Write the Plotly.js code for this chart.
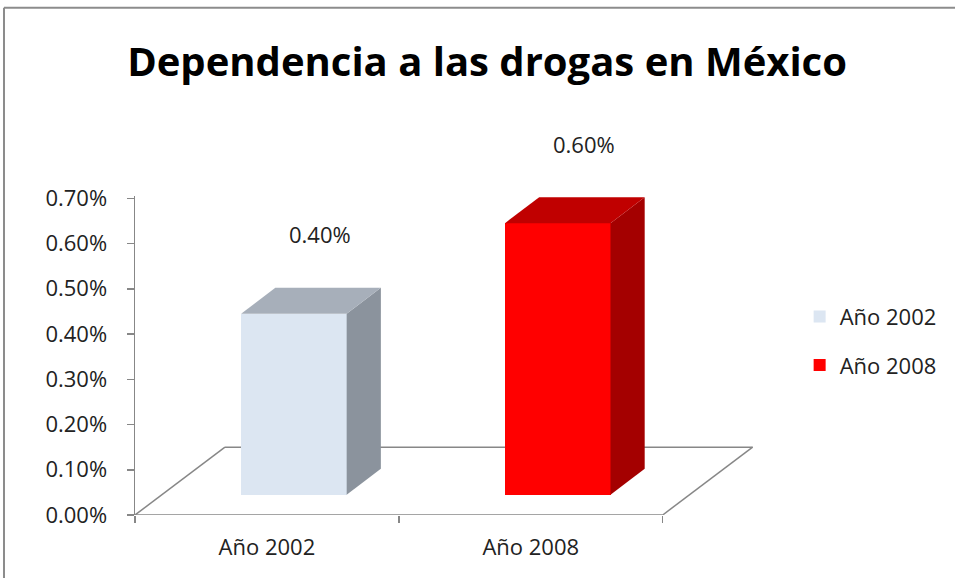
<!DOCTYPE html>
<html>
<head>
<meta charset="utf-8">
<script src="https://cdn.plot.ly/plotly-3.0.1.min.js"></script>
<style>html,body{margin:0;padding:0;background:#fff;}#chart{width:955px;height:578px;}</style>
</head>
<body>
<div id="chart"></div>
<script>
// ---- data ----
const categories = ['Año 2002', 'Año 2008'];
const seriesNames = ['Año 2002', 'Año 2008'];
const values = [0.004, 0.006];
const frontColors = ['#DCE6F2', '#FF0000'];
const topColors = ['#A7AFBA', '#C00000'];
const sideColors = ['#8B939D', '#A40000'];

// ---- pseudo-3D geometry (in axis units) ----
const floorDx = 0.341;     // depth offset along x (category units)
const floorDy = 0.0015;    // depth offset along y (value units)
const f0 = 0.30, f1 = 0.68; // bar front / back depth fractions
const barW = 0.40;

const traces = [];
const fontFam = '"Open Sans", "Noto Sans", sans-serif';

values.forEach((v, i) => {
  const xc = i + f0 * floorDx;
  const xl0 = xc - barW / 2, xr0 = xc + barW / 2;
  const ddx = (f1 - f0) * floorDx;
  const yb0 = f0 * floorDy, yb1 = f1 * floorDy;
  // front face
  traces.push({
    type: 'bar', x: [xc], y: [v], base: [yb0], width: [barW],
    name: seriesNames[i], legendgroup: 'g' + i,
    marker: {color: frontColors[i], line: {width: 0}},
    hoverinfo: 'skip'
  });
  // side face
  traces.push({
    type: 'scatter', mode: 'lines', fill: 'toself', showlegend: false, hoverinfo: 'skip',
    x: [xr0, xr0, xr0 + ddx, xr0 + ddx, xr0],
    y: [yb0, v + yb0, v + yb1, yb1, yb0],
    line: {width: 0, color: sideColors[i]}, fillcolor: sideColors[i]
  });
  // top face
  traces.push({
    type: 'scatter', mode: 'lines', fill: 'toself', showlegend: false, hoverinfo: 'skip',
    x: [xl0, xr0, xr0 + ddx, xl0 + ddx, xl0],
    y: [v + yb0, v + yb0, v + yb1, v + yb1, v + yb0],
    line: {width: 0, color: topColors[i]}, fillcolor: topColors[i]
  });
});

const gray = '#878787';
const xMin = -0.5, xMax = categories.length - 0.5;
const shapes = [
  // floor
  {type: 'line', xref: 'x', yref: 'y', layer: 'below', x0: xMin, y0: 0, x1: xMax, y1: 0, line: {color: gray, width: 1.5}},
  {type: 'line', xref: 'x', yref: 'y', layer: 'below', x0: xMin, y0: 0, x1: xMin + floorDx, y1: floorDy, line: {color: gray, width: 1.5}},
  {type: 'line', xref: 'x', yref: 'y', layer: 'below', x0: xMin + floorDx, y0: floorDy, x1: xMax + floorDx, y1: floorDy, line: {color: gray, width: 1.5}},
  {type: 'line', xref: 'x', yref: 'y', layer: 'below', x0: xMax, y0: 0, x1: xMax + floorDx, y1: floorDy, line: {color: gray, width: 1.5}},
  // chart frame (left and top)
  {type: 'line', xref: 'paper', yref: 'paper', x0: -0.2113, y0: 1.59, x1: 1.4, y1: 1.59, line: {color: '#8C8C8C', width: 2}},
  {type: 'line', xref: 'paper', yref: 'paper', x0: -0.2113, y0: 1.59, x1: -0.2113, y1: -0.5, line: {color: '#8C8C8C', width: 2}}
];

const annotations = values.map((v, i) => ({
  x: i + 0.2, y: v, xref: 'x', yref: 'y', yshift: 100,
  text: (v * 100).toFixed(2) + '%', showarrow: false,
  font: {family: fontFam, size: 22, color: '#222'}
}));

const layout = {
  width: 955, height: 578,
  margin: {l: 135, r: 200, t: 196, b: 63},
  paper_bgcolor: '#fff', plot_bgcolor: '#fff',
  title: {
    text: '<b>Dependencia a las drogas en México</b>',
    font: {family: fontFam, size: 40, color: '#000'},
    x: 0.51, xanchor: 'center', xref: 'container',
    y: 0.893, yanchor: 'middle', yref: 'container'
  },
  showlegend: true,
  legend: {
    x: 1.072, xanchor: 'left', y: 0.545, yanchor: 'middle',
    font: {family: fontFam, size: 22, color: '#222'},
    tracegroupgap: 17, bgcolor: 'rgba(0,0,0,0)'
  },
  xaxis: {
    type: 'linear', range: [xMin, xMax + 0.35], fixedrange: true,
    tickmode: 'array', tickvals: categories.map((c, i) => i), ticktext: categories,
    ticks: '', showgrid: false, zeroline: false, showline: false,
    tickfont: {family: fontFam, size: 22, color: '#222'},
    ticklabelstandoff: 17,
    minor: {tickmode: 'array', tickvals: [-0.5, 0.5, 1.5], ticks: 'outside', ticklen: 7, tickcolor: gray, tickwidth: 1.5, showgrid: false}
  },
  yaxis: {
    range: [0, 0.00705], fixedrange: true,
    tickmode: 'array', tickvals: [0, 0.001, 0.002, 0.003, 0.004, 0.005, 0.006, 0.007],
    tickformat: '.2%', ticks: 'outside', ticklen: 7, tickcolor: gray, tickwidth: 1.5,
    showline: true, linecolor: gray, linewidth: 1.5,
    showgrid: false, zeroline: false,
    tickfont: {family: fontFam, size: 22, color: '#222'},
    ticklabelstandoff: 15
  },
  shapes: shapes,
  annotations: annotations,
  bargap: 0
};

Plotly.newPlot('chart', traces, layout, {displayModeBar: false, staticPlot: true});
</script>
</body>
</html>
